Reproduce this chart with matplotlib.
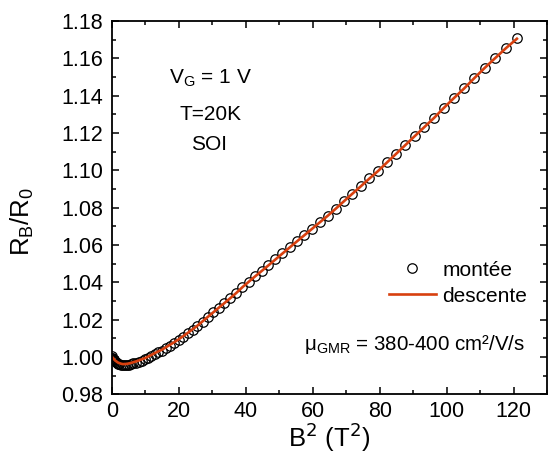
"""
Magnetoresistance R_B/R_0 versus B^2, SOI sample at 20 K
"""
import matplotlib
matplotlib.use('Agg')
import matplotlib.pyplot as plt
from matplotlib.ticker import MultipleLocator

plt.rcParams['font.family'] = ['Liberation Sans', 'DejaVu Sans']

# %% data
b2 = [0.0, 0.022, 0.088, 0.199, 0.354, 0.552, 0.795, 1.083, 1.414, 1.790,
      2.210, 2.674, 3.182, 3.734, 4.331, 4.972, 5.657, 6.386, 7.160, 7.977,
      8.838, 9.744, 10.69, 11.69, 12.73, 13.81, 14.94, 16.11, 17.32, 18.58,
      19.89, 21.23, 22.63, 24.06, 25.54, 27.07, 28.64, 30.25, 31.91, 33.61,
      35.35, 37.14, 38.98, 40.86, 42.78, 44.75, 46.76, 48.81, 50.91, 53.05,
      55.24, 57.47, 59.75, 62.07, 64.43, 66.84, 69.29, 71.79, 74.33, 76.92,
      79.55, 82.22, 84.94, 87.70, 90.51, 93.36, 96.25, 99.19, 102.17, 105.20,
      108.27, 111.39, 114.55, 117.75, 121.0]

# descente (red line)
r_down = [1.0000, 0.9999, 0.9998, 0.9996, 0.9993, 0.9989, 0.9984, 0.9979, 0.9975, 0.9970,
          0.9967, 0.9964, 0.9962, 0.9962, 0.9963, 0.9965, 0.9968, 0.9972, 0.9976, 0.9981,
          0.9987, 0.9993, 1.0001, 1.0010, 1.0020, 1.0030, 1.0039, 1.0052, 1.0065, 1.0079,
          1.0094, 1.0111, 1.0129, 1.0148, 1.0168, 1.0191, 1.0215, 1.0239, 1.0264, 1.0289,
          1.0315, 1.0343, 1.0374, 1.0403, 1.0432, 1.0461, 1.0491, 1.0522, 1.0554, 1.0586,
          1.0619, 1.0652, 1.0686, 1.0721, 1.0756, 1.0794, 1.0834, 1.0874, 1.0914, 1.0956,
          1.0997, 1.1043, 1.1089, 1.1136, 1.1184, 1.1232, 1.1281, 1.1335, 1.1387, 1.1438,
          1.1494, 1.1549, 1.1602, 1.1655, 1.1705]

# montée (open circles)
r_up = [1.0003, 0.9996, 0.9992, 0.9989, 0.9986, 0.9982, 0.9977, 0.9972, 0.9967, 0.9963,
        0.9960, 0.9958, 0.9956, 0.9956, 0.9957, 0.9959, 0.9962, 0.9966, 0.9970, 0.9975,
        0.9981, 0.9987, 0.9995, 1.0004, 1.0014, 1.0024, 1.0034, 1.0047, 1.0061, 1.0075,
        1.0091, 1.0108, 1.0127, 1.0146, 1.0167, 1.0190, 1.0214, 1.0239, 1.0264, 1.0289,
        1.0316, 1.0344, 1.0375, 1.0404, 1.0433, 1.0462, 1.0492, 1.0523, 1.0555, 1.0587,
        1.0620, 1.0653, 1.0687, 1.0722, 1.0757, 1.0795, 1.0835, 1.0875, 1.0915, 1.0957,
        1.0998, 1.1044, 1.1090, 1.1137, 1.1185, 1.1233, 1.1282, 1.1336, 1.1388, 1.1439,
        1.1495, 1.1550, 1.1603, 1.1656, 1.1708]

xticks = [0, 20, 40, 60, 80, 100, 120]
yticks = [0.98, 1.00, 1.02, 1.04, 1.06, 1.08, 1.10, 1.12, 1.14, 1.16, 1.18]

red = '#d8400f'

# %% plot
fig = plt.figure(figsize=(5.48, 4.54), dpi=100)
ax = fig.add_axes([0.2044, 0.1315, 0.7938, 0.8222])

ax.plot(b2, r_up, 'o', mfc='none', mec='black', ms=6.8, mew=0.9, label='montée')
ax.plot(b2, r_down, '-', color=red, lw=1.9, label='descente')

ax.set_xlim(0, 130)
ax.set_ylim(0.98, 1.18)
ax.set_xticks(xticks)
ax.set_yticks(yticks)
ax.set_yticklabels([f'{v:.2f}' for v in yticks])
ax.xaxis.set_minor_locator(MultipleLocator(10))
ax.yaxis.set_minor_locator(MultipleLocator(0.01))
ax.tick_params(which='both', direction='in', top=True, right=True,
               labelsize=15.5, width=1.1)
ax.tick_params(which='major', length=5)
ax.tick_params(which='minor', length=3)
ax.tick_params(axis='y', which='major', pad=6.3)
ax.tick_params(axis='x', which='major', pad=5)
for sp in ax.spines.values():
    sp.set_linewidth(1.3)

ax.set_xlabel(r'B$^2$ (T$^2$)', fontsize=18.5, labelpad=-1.5)
ax.set_ylabel(r'R$_\mathregular{B}$/R$_\mathregular{0}$', fontsize=18.5)
ax.yaxis.set_label_coords(-0.174, 0.464)

ax.text(0.2264, 0.834, r'V$_\mathregular{G}$ = 1 V', transform=ax.transAxes,
        ha='center', va='baseline', fontsize=15)
ax.text(0.2264, 0.735, 'T=20K', transform=ax.transAxes,
        ha='center', va='baseline', fontsize=15)
ax.text(0.222, 0.654, 'SOI', transform=ax.transAxes,
        ha='center', va='baseline', fontsize=15)
ax.text(0.950, 0.1187, r'μ$_\mathregular{GMR}$ = 380-400 cm²/V/s', transform=ax.transAxes,
        ha='right', va='baseline', fontsize=14.8)

ax.legend(loc='upper left', bbox_to_anchor=(0.636, 0.358), frameon=False,
          fontsize=15, handlelength=2.28, handletextpad=0.29, borderpad=0,
          labelspacing=0.34, borderaxespad=0)

fig.savefig('out.png', dpi=100)
